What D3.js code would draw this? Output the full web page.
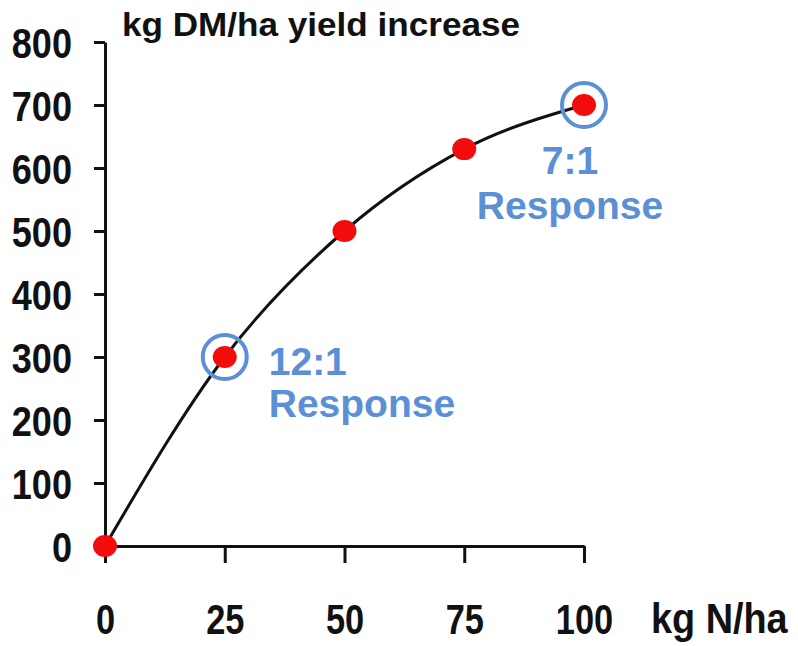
<!DOCTYPE html>
<html>
<head>
<meta charset="utf-8">
<script src="https://cdn.jsdelivr.net/npm/d3@7"></script>
<style>
  body { margin: 0; background: #fff; }
  svg { display: block; }
  .num { font-family: "Liberation Sans", Arial, sans-serif; font-weight: bold; fill: #111; }
  .note { font-family: "Liberation Sans", Arial, sans-serif; font-weight: bold; fill: #5b8fd6; }
</style>
</head>
<body>
<svg id="svg" width="798" height="646"></svg>
<script>
// data
var nRates = [0, 25, 50, 75, 100];
var yieldIncrease = [0, 300, 500, 630, 700];
var yTicks = [0, 100, 200, 300, 400, 500, 600, 700, 800];
var xTicks = [0, 25, 50, 75, 100];
var highlighted = [25, 100];
var notes = [
  {x: 25, y: 300, lines: ['12:1', 'Response']},
  {x: 100, y: 700, lines: ['7:1', 'Response']}
];

var svg = d3.select('svg');

var x = d3.scaleLinear().domain([0, 100]).range([105, 584]);
var y = d3.scaleLinear().domain([0, 800]).range([546, 42]);

var points = nRates.map(function(d, i){ return {x: d, y: yieldIncrease[i]}; });

// y axis
var yAxis = svg.append('g')
    .attr('transform', 'translate(' + x(0) + ',0)')
    .call(d3.axisLeft(y).tickValues(yTicks).tickSize(11).tickSizeOuter(0));
yAxis.select('.domain').attr('stroke', '#111').attr('stroke-width', 3);
yAxis.selectAll('.tick line').attr('stroke', '#111').attr('stroke-width', 3);
// narrow bold look: squeeze the glyphs sideways
yAxis.selectAll('.tick text')
    .attr('class', 'num')
    .attr('font-size', 43)
    .attr('x', null)
    .attr('dy', '0.36em')
    .attr('transform', 'translate(-33,0) scale(0.84,1)');

// x axis
var xAxis = svg.append('g')
    .attr('transform', 'translate(0,' + y(0) + ')')
    .call(d3.axisBottom(x).tickValues(xTicks).tickSize(17).tickPadding(40).tickSizeOuter(0));
xAxis.select('.domain').attr('stroke', '#111').attr('stroke-width', 3);
xAxis.selectAll('.tick line').attr('stroke', '#111').attr('stroke-width', 3);
xAxis.selectAll('.tick text')
    .attr('class', 'num')
    .attr('font-size', 43)
    .attr('dy', '0.71em')
    .attr('transform', 'scale(0.8,1)');

// axis titles
svg.append('text')
    .attr('class', 'num')
    .attr('x', 122)
    .attr('y', 36)
    .attr('font-size', 33)
    .attr('textLength', 398)
    .attr('lengthAdjust', 'spacingAndGlyphs')
    .text('kg DM/ha yield increase');

svg.append('text')
    .attr('class', 'num')
    .attr('transform', 'translate(651,633) scale(0.88,1)')
    .attr('font-size', 43)
    .text('kg N/ha');

// response curve
var line = d3.line()
    .x(function(d){ return x(d.x); })
    .y(function(d){ return y(d.y); })
    .curve(d3.curveMonotoneX);

svg.append('path')
    .datum(points)
    .attr('d', line)
    .attr('fill', 'none')
    .attr('stroke', '#111')
    .attr('stroke-width', 3);

svg.selectAll('ellipse.dot')
    .data(points)
    .enter()
    .append('ellipse')
    .attr('class', 'dot')
    .attr('cx', function(d){ return x(d.x); })
    .attr('cy', function(d){ return y(d.y); })
    .attr('rx', 12)
    .attr('ry', 11)
    .attr('fill', '#f20c0c');

// highlight rings
svg.selectAll('circle.ring')
    .data(points.filter(function(d){ return highlighted.indexOf(d.x) >= 0; }))
    .enter()
    .append('circle')
    .attr('class', 'ring')
    .attr('cx', function(d){ return x(d.x); })
    .attr('cy', function(d){ return y(d.y); })
    .attr('r', 22)
    .attr('fill', 'none')
    .attr('stroke', '#5b8fd6')
    .attr('stroke-width', 4);

// annotations
var n1 = svg.append('text').attr('class', 'note').attr('font-size', 39);
n1.append('tspan').attr('x', x(notes[0].x) + 44).attr('y', y(notes[0].y) + 18).text(notes[0].lines[0]);
n1.append('tspan').attr('x', x(notes[0].x) + 44).attr('y', y(notes[0].y) + 60).text(notes[0].lines[1]);

var n2 = svg.append('text').attr('class', 'note').attr('font-size', 39).attr('text-anchor', 'middle');
n2.append('tspan').attr('x', x(notes[1].x) - 14).attr('y', y(notes[1].y) + 69).text(notes[1].lines[0]);
n2.append('tspan').attr('x', x(notes[1].x) - 14).attr('y', y(notes[1].y) + 114).text(notes[1].lines[1]);
</script>
</body>
</html>
